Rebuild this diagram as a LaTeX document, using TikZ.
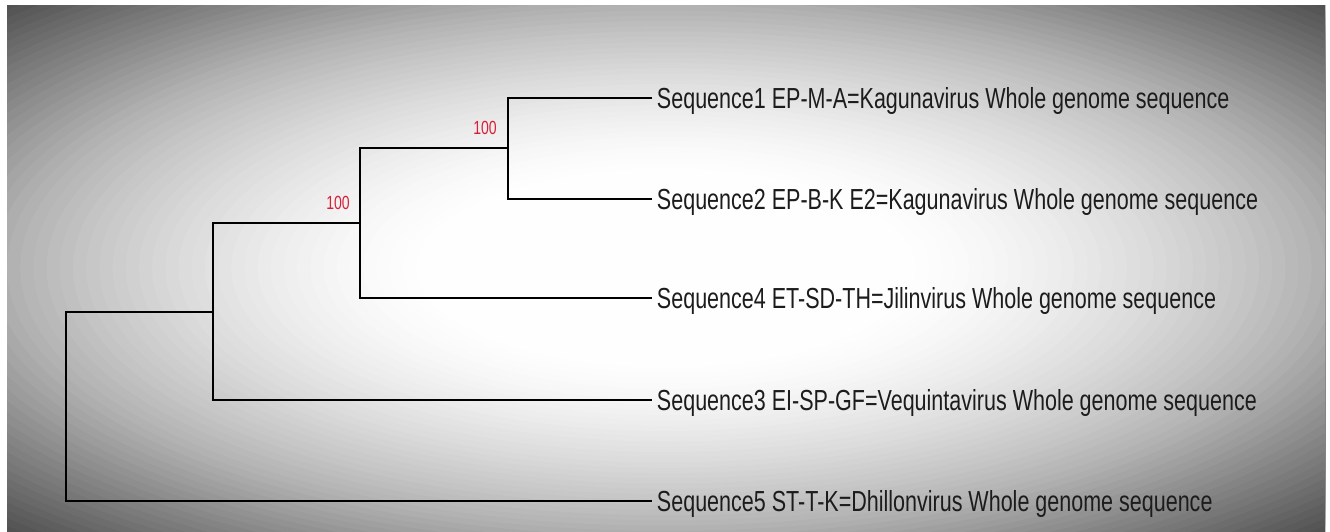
\documentclass[tikz,border=0pt]{standalone}
\usepackage{fontspec}
\setmainfont{Liberation Sans}
\definecolor{bsred}{RGB}{214,32,56}
\definecolor{txt}{RGB}{28,28,28}
\tikzset{
  branch/.style={line width=1.6pt, black},
  leaf/.style={anchor=west, inner xsep=6.5pt, inner ysep=0pt, text height=20.8pt, text depth=0pt,
    font=\fontsize{29}{29}\selectfont, text=txt, xscale=0.742, transform shape},
  boot/.style={inner sep=0pt, font=\fontsize{19}{19}\selectfont, text=bsred, xscale=0.74, transform shape}
}
\begin{document}
\begin{tikzpicture}[x=1pt,y=-1pt]
\useasboundingbox (0,0) rectangle (1330,531);
\fill[white] (0,0) rectangle (1330,531);
\begin{scope}
  \clip (7,5) rectangle (1325,531);
  \foreach \t in {1.46,1.44,...,0.37}{
    \pgfmathsetmacro{\p}{min(70,ifthenelse(\t<=1, 30*((\t-0.35)/0.65)^1.5, 30+38*(\t-1)/0.42))}
    \fill[black!\p!white] (666,268) ellipse[x radius={659*\t}, y radius={263*\t}];
  }
\end{scope}
% internal nodes
\coordinate (root) at (66,407);
\coordinate (n2) at (213,312);
\coordinate (n3) at (360,223);
\coordinate (n4) at (508,148);
% leaves
\node[leaf] (s1) at (652,98) {Sequence1 EP-M-A=Kagunavirus Whole genome sequence};
\node[leaf] (s2) at (652,199) {Sequence2 EP-B-K E2=Kagunavirus Whole genome sequence};
\node[leaf] (s4) at (652,298) {Sequence4 ET-SD-TH=Jilinvirus Whole genome sequence};
\node[leaf] (s3) at (652,400) {Sequence3 EI-SP-GF=Vequintavirus Whole genome sequence};
\node[leaf] (s5) at (652,501) {Sequence5 ST-T-K=Dhillonvirus Whole genome sequence};
% branches
\draw[branch] (root) |- (n2);
\draw[branch] (root) |- (s5.west);
\draw[branch] (n2) |- (n3);
\draw[branch] (n2) |- (s3.west);
\draw[branch] (n3) |- (n4);
\draw[branch] (n3) |- (s4.west);
\draw[branch] (n4) |- (s1.west);
\draw[branch] (n4) |- (s2.west);
% bootstrap values
\node[boot] (b1) at (485,128) {100};
\node[boot] (b2) at (338,203) {100};
\end{tikzpicture}
\end{document}
